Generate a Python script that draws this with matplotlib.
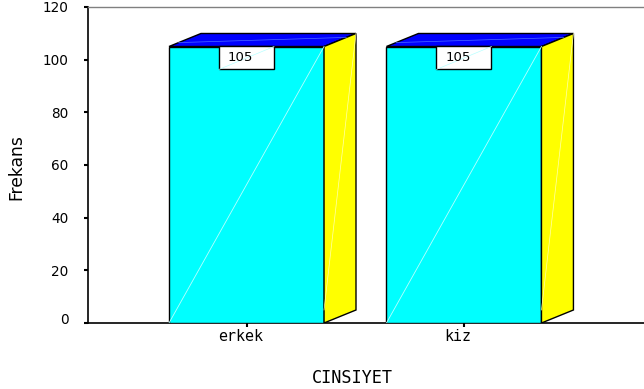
import numpy as np
import matplotlib
matplotlib.use('Agg')
import matplotlib.pyplot as plt
import matplotlib.transforms as mtransforms
from matplotlib.patches import Polygon, Rectangle

categories = ['erkek', 'kiz']
counts = [105, 105]
yticks = [0, 20, 40, 60, 80, 100, 120]

W, H = 644, 389
fig = plt.figure(figsize=(W / 100, H / 100), dpi=100)
ax = fig.add_axes([88 / W, (H - 323) / H, 556 / W, 316 / H])

x = np.arange(len(categories))
bw = 0.713          # bar width in category units
dx, dy = 0.147, 4.94  # 3D depth offset

ax.bar(x, counts, width=bw, color='#00ffff', edgecolor='black', lw=1, zorder=3)
for xi, v in zip(x, counts):
    l, r = xi - bw / 2, xi + bw / 2
    # top face
    ax.add_patch(Polygon([(l, v), (r, v), (r + dx, v + dy), (l + dx, v + dy)],
                         closed=True, facecolor='#0000ff', edgecolor='black', lw=1, zorder=3))
    # side face
    ax.add_patch(Polygon([(r, 0), (r + dx, dy), (r + dx, v + dy), (r, v)],
                         closed=True, facecolor='#ffff00', edgecolor='black', lw=1, zorder=3))
    # faint diagonals
    ax.plot([l, r], [0, v], color='#b8ffff', lw=0.6, zorder=4)
    ax.plot([r, r + dx], [dy, v + dy], color='#ffffb0', lw=0.5, zorder=4)
    ax.plot([l + dx * 0.3, r + dx * 0.7], [v + dy * 0.3, v + dy * 0.7], color='#4c6cff', lw=0.5, zorder=4)
    # value label box
    bx, bh = 0.253, 8.7
    ax.add_patch(Rectangle((xi - bx / 2, v - bh), bx, bh, facecolor='white',
                           edgecolor='black', lw=1, zorder=5))
    ax.plot([xi - bx / 2, xi + bx / 2], [v - bh, v], color='#b8ffff', lw=0.5, zorder=5)
    ax.text(xi - 0.028, v - bh / 2, str(v), ha='center', va='center',
            fontsize=9.5, family='DejaVu Sans', zorder=6)

ax.set_xlim(-0.729, 1.828)
ax.set_ylim(0, 120)
ax.set_yticks(yticks)
ax.set_yticklabels([str(t) for t in yticks], family='DejaVu Sans', fontsize=9.8)
ax.set_xticks(x)
ax.set_xticklabels(categories, family='DejaVu Sans Mono', fontsize=10.8)
ax.tick_params(axis='y', length=3, width=1.5, pad=11, direction='out')
ax.tick_params(axis='x', length=3, width=1.5, pad=1, direction='out')

# small offsets seen in the reference labels
for lab in ax.get_xticklabels():
    lab.set_transform(lab.get_transform() +
                      mtransforms.ScaledTranslation(-6 / 100, 0, fig.dpi_scale_trans))
ylabs = ax.get_yticklabels()
ylabs[0].set_transform(ylabs[0].get_transform() +
                       mtransforms.ScaledTranslation(0, 5 / 100, fig.dpi_scale_trans))

ax.spines['right'].set_visible(False)
ax.spines['top'].set_color('#808080')
ax.spines['top'].set_linewidth(1)
ax.spines['left'].set_linewidth(1.2)
ax.spines['bottom'].set_linewidth(1.2)

fig.text(352 / W, 1 - 378 / H, 'CINSIYET', ha='center', va='center',
         fontsize=12.2, family='DejaVu Sans Mono')
fig.text(16 / W, 1 - 167 / H, 'Frekans', ha='center', va='center', rotation=90,
         fontsize=12.3, family='DejaVu Sans')

fig.savefig('out.png', dpi=100, facecolor='white')
